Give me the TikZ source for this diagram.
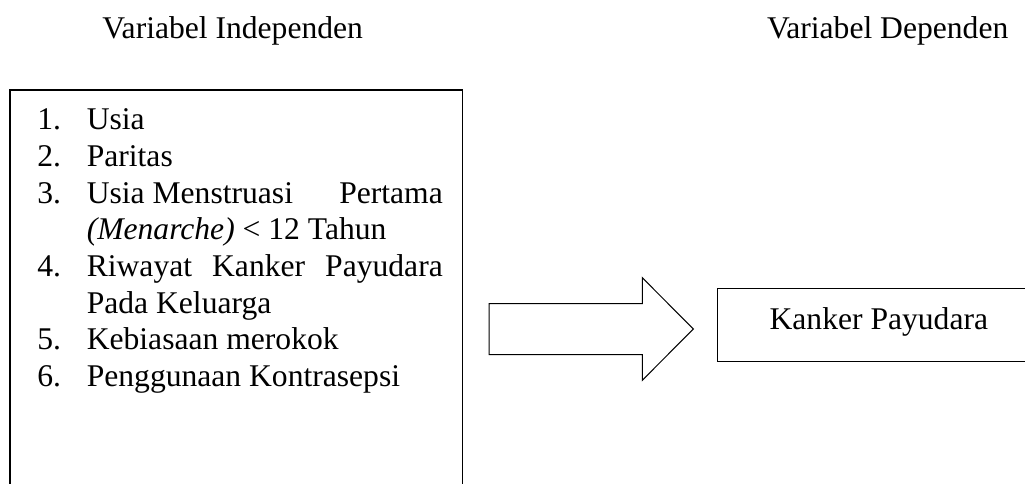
\documentclass[tikz,border=0pt]{standalone}
\usepackage{fontspec}
\setmainfont{Liberation Serif}
\begin{document}
\tikzset{
  frame/.style={draw, line width=1.2pt, rectangle, inner sep=0pt},
  lbl/.style={font=\fontsize{31.6}{36.6}\selectfont, inner sep=0pt, anchor=base west},
  blockarrow/.style={draw, line width=1pt, line join=miter},
}
% one numbered entry: name, baseline, number, text
\newcommand\listline[4]{%
  \node[lbl] (n#1) at (37.2,#2) {#3};
  \node[lbl] (t#1) at (86.6,#2) {#4};
}
\begin{tikzpicture}[x=1pt,y=-1pt]
\useasboundingbox (0,0) rectangle (1025,484);
\clip (0,0) rectangle (1025,484);

% column headings
\node[lbl] (hInd) at (102.2,38.3) {Variabel Independen};
\node[lbl, anchor=base east] (hDep) at (1008.5,38.3) {Variabel Dependen};

% independent variables box
\node[frame, minimum width=452.7pt, minimum height=430pt] (ind) at (236.35,305) {};
\listline{1}{130}{1.}{Usia}
\listline{2}{166.6}{2.}{Paritas}
\listline{3}{203.2}{3.}{\hbox to 356pt{Usia Menstruasi\hfill Pertama}}
\listline{4}{239.8}{}{\textit{(Menarche)} < 12 Tahun}
\listline{5}{276.4}{4.}{\makebox[356pt][s]{Riwayat Kanker Payudara}}
\listline{6}{313}{}{Pada Keluarga}
\listline{7}{349.6}{5.}{Kebiasaan merokok}
\listline{8}{386.2}{6.}{Penggunaan Kontrasepsi}

% dependent variable box
\node[frame, minimum width=322.3pt, minimum height=73.4pt,
      font=\fontsize{31.6}{36.6}\selectfont, text height=17pt, text depth=8.4pt]
      (dep) at (878.85,325) {Kanker Payudara};

% block arrow between the boxes
\coordinate (tail) at (489,329);
\draw[blockarrow] (tail) +(0,-25.5) -- +(153.3,-25.5) -- +(153.3,-51.3)
  -- +(204.3,0) -- +(153.3,51.3) -- +(153.3,25.5) -- +(0,25.5) -- cycle;
\end{tikzpicture}
\end{document}
